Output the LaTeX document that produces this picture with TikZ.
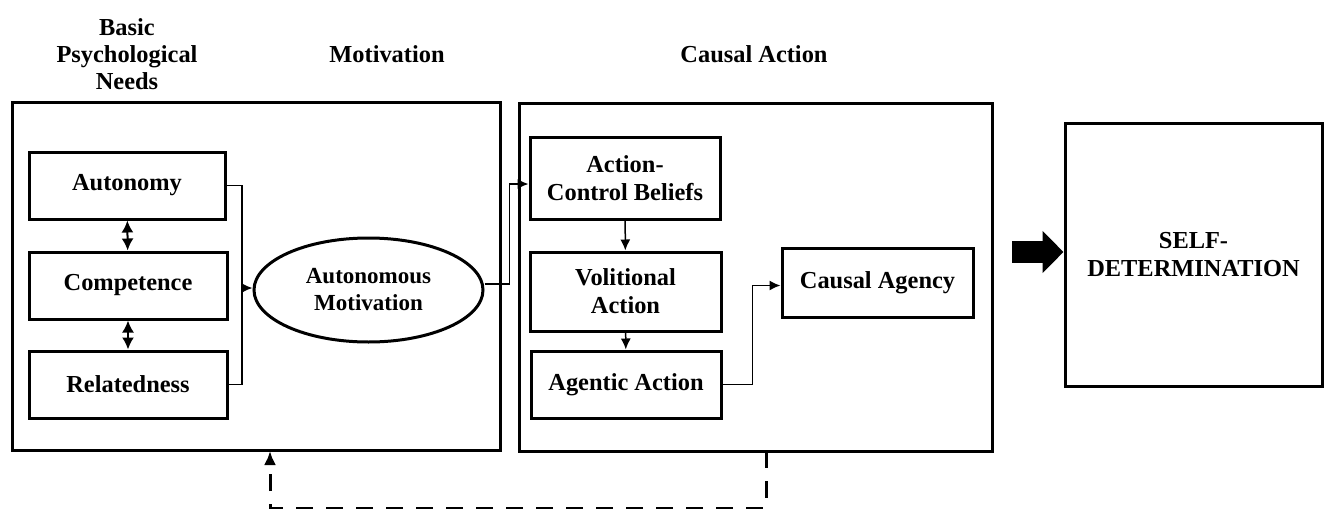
\documentclass[tikz,border=0pt]{standalone}
\usepackage{fontspec}
\setmainfont{Liberation Serif}
\usetikzlibrary{arrows.meta,shapes.geometric}

\tikzset{
	txt/.style={font=\fontsize{12.2}{14}\selectfont\bfseries, align=center},
	heading/.style={txt, font=\fontsize{12.2}{13.5}\selectfont\bfseries},
	frame/.style={draw, line width=1.5pt, inner sep=0pt},
	box/.style={frame, txt},
	link/.style={line width=.75pt},
	tip/.style={-{Latex[length=5.5pt,width=5pt]}},
	both/.style={line width=1pt, {Latex[length=6pt,width=6pt]}-{Latex[length=6pt,width=6pt]}},
	feedback/.style={line width=1.5pt, dash pattern=on 8.5pt off 6.5pt, -{Latex[length=7pt,width=6pt]}},
	bigarrow/.style={line width=11pt, -{Triangle[length=10.5pt,width=20.5pt]}}
}

\begin{document}
\begin{tikzpicture}[x=.5pt, y=-.5pt]
	\useasboundingbox (0, 0) rectangle (1324, 509);

	% headings
	\node[heading] (hneeds) at(127, 54){Basic\\Psychological\\Needs};
	\node[heading] (hmotiv) at(387, 54){Motivation};
	\node[heading] (hcausal) at(754, 54){Causal Action};

	% the two big frames
	\node[frame, minimum width=244pt, minimum height=174pt] (needsbox) at(256, 276){};
	\node[frame, minimum width=236.5pt, minimum height=174pt] (actbox) at(755.5, 277){};

	% needs
	\node[box, minimum width=98pt, minimum height=33.5pt] (auto) at(127, 185.5){Autonomy};
	\node[box, minimum width=99pt, minimum height=33.5pt] (comp) at(128, 285.5){Competence};
	\node[box, minimum width=99pt, minimum height=33.5pt] (relat) at(128, 384.5){Relatedness};
		\draw[both] (auto) to (comp);
		\draw[both] (comp) to (relat);

	% motivation
	\node[frame, ellipse, txt, font=\fontsize{11.5}{13.5}\selectfont\bfseries,
		minimum width=114.5pt, minimum height=52pt] (motiv) at(368.5, 290){Autonomous\\Motivation};
		\coordinate (join) at(242, 288);
		\draw[link] (auto.east) -| (join);
		\draw[link] (relat.east) -| (join);
		\draw[link, tip] (join) to (join -| motiv.west);

	% causal action
	\node[box, minimum width=95pt, minimum height=41pt] (acb) at(625, 178){Action-\\Control Beliefs};
	\node[box, minimum width=95.5pt, minimum height=39.5pt] (vola) at(625.5, 291.5){Volitional\\Action};
	\node[box, minimum width=95pt, minimum height=33.5pt] (agen) at(626, 384.5){Agentic Action};
	\node[box, minimum width=95.5pt, minimum height=34.5pt] (agency) at(877.5, 282.5){Causal Agency};
		\draw[link, tip] ([yshift=3pt]motiv.east) -- ++(25, 0) |- ([yshift=-3pt]acb.west);
		\draw[link, tip] (acb) to (vola);
		\draw[link, tip] (vola) to (agen);
		\draw[link, tip] (agen.east) -- ++(30, 0) |- ([yshift=-1.5pt]agency.west);

	% outcome
	\node[box, minimum width=128.5pt, minimum height=131.5pt] (selfdet) at(1193.5, 254.5){SELF-\\DETERMINATION};
		\coordinate (arrstart) at(1012, 252);
		\draw[bigarrow] (arrstart) to (arrstart -| selfdet.west);

	% feedback loop
	\coordinate (fbout) at(766, 451);
	\coordinate (fbin) at(270, 451);
		\draw[feedback] (fbout) -- ++(0, 57) -| (fbin);
\end{tikzpicture}
\end{document}
